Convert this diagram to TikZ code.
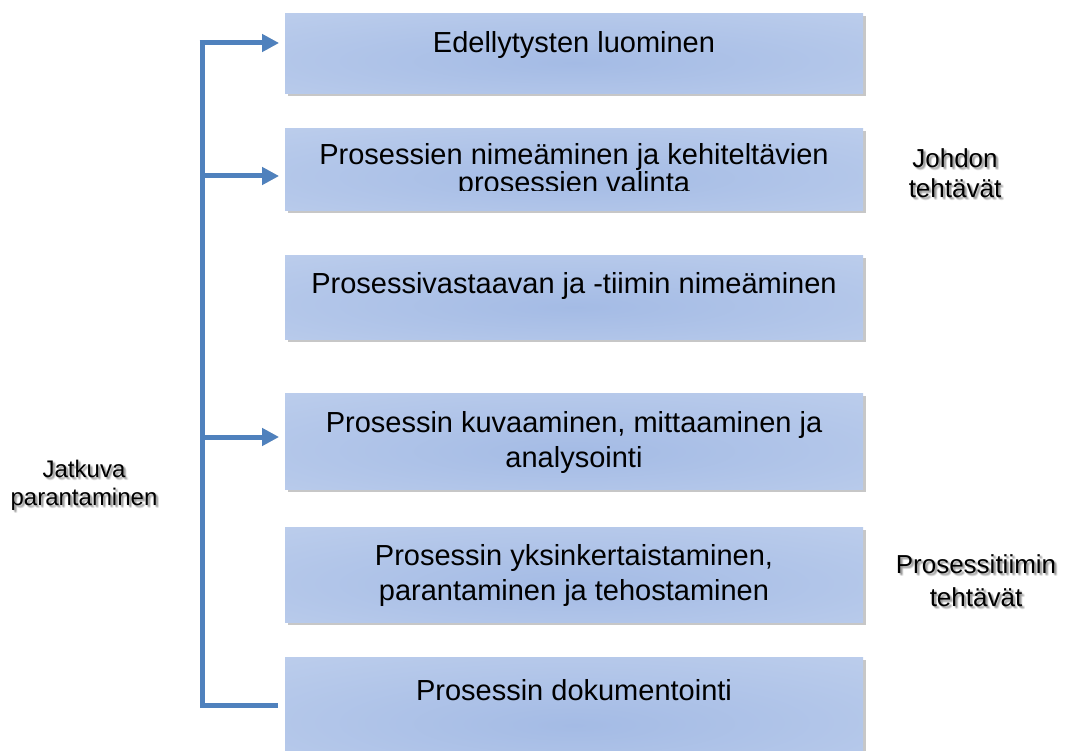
\documentclass[tikz,border=0pt]{standalone}
\usepackage{fontspec}
\setmainfont{Liberation Sans}
\usetikzlibrary{arrows.meta,shadows,calc}

\definecolor{linkblue}{HTML}{4F81BD}
\definecolor{boxin}{HTML}{A4BBE5}
\definecolor{boxout}{HTML}{CAD8F0}
\pgfdeclareradialshading{boxglow}{\pgfpoint{0bp}{-6bp}}{color(0bp)=(boxin); color(62bp)=(boxout); color(90bp)=(boxout)}

% label with a soft drop shadow behind it
\newcommand\softlabel[4][]{%
  \foreach \dx/\dy in {1/1,2/2,1.5/2.5,2.5/1.5,2/3,3/2,3/3}
    \node[sidelabel, #1, opacity=0.07] at ($(#3)+(\dx,\dy)$) {#4};
  \node[sidelabel, #1] (#2) at (#3) {#4};}

\begin{document}
\begin{tikzpicture}[x=1pt,y=-1pt,
  stepbox/.style={draw=none, shading=boxglow,
    drop shadow={shadow xshift=2.5pt, shadow yshift=-3pt, fill=black, opacity=0.22},
    minimum width=578pt, anchor=north west, inner sep=0pt},
  boxtext/.style={font=\fontsize{29}{35}\selectfont, align=center, inner sep=0pt},
  sidelabel/.style={font=\fontsize{26}{30}\selectfont, align=center, inner sep=0pt},
  link/.style={draw=linkblue, line width=5pt},
  linkshade/.style={draw=black, line width=5pt, opacity=0.18},
  tip/.style={-{Triangle[length=17pt,width=17pt]}}
]
\clip (0,0) rectangle (1066,751);
\fill[white] (0,0) rectangle (1066,751);

% process steps
\node[stepbox, minimum height=80pt]  (b1) at (285,13)  {};
\node[stepbox, minimum height=82pt]  (b2) at (285,128) {};
\node[stepbox, minimum height=84pt]  (b3) at (285,255) {};
\node[stepbox, minimum height=96pt]  (b4) at (285,393) {};
\node[stepbox, minimum height=95pt]  (b5) at (285,527) {};
\node[stepbox, minimum height=110pt] (b6) at (285,657) {};

\node[boxtext] (t1) at (574,44.6) {Edellytysten luominen};
\begin{scope}
  \clip (285,128) rectangle (863,190.5);
  \node[boxtext, font=\fontsize{29}{25}\selectfont] (t2) at (574,171) {Prosessien nimeäminen ja kehiteltävien\\prosessien valinta};
\end{scope}
\node[boxtext] (t3) at (574,285.6) {Prosessivastaavan ja -tiimin nimeäminen};
\node[boxtext] (t4) at (574,443) {Prosessin kuvaaminen, mittaaminen ja\\analysointi};
\node[boxtext] (t5) at (574,575) {Prosessin yksinkertaistaminen,\\parantaminen ja tehostaminen};
\node[boxtext] (t6) at (574,690) {Prosessin dokumentointi};

% side labels
\softlabel{lead}{955,173}{Johdon\\tehtävät}
\softlabel[font=\fontsize{26}{33}\selectfont]{team}{976,580.4}{Prosessitiimin\\tehtävät}
\softlabel[font=\fontsize{24}{28}\selectfont]{loop}{84,485}{Jatkuva\\parantaminen}

% improvement loop
\coordinate (a1) at (202,43);
\coordinate (a2) at (202,176);
\coordinate (a4) at (202,437);
\coordinate (a6) at (202,705);

\begin{scope}[shift={(2.5,2.5)}]
  \draw[linkshade, line join=miter] (a1) -- (a6) -- ($(a6 -| b6.west)+(-7,0)$);
  \draw[linkshade, tip, shorten >=6pt] (a1) -- (a1 -| b1.west);
  \draw[linkshade, tip, shorten >=6pt] (a2) -- (a2 -| b2.west);
  \draw[linkshade, tip, shorten >=6pt] (a4) -- (a4 -| b4.west);
\end{scope}
\draw[link, line join=miter] ($(a1)+(0,-2.5)$) -- (a6) -- ($(a6 -| b6.west)+(-7,0)$);
\draw[link, tip, shorten >=6pt] ($(a1)+(-2.5,0)$) -- (a1 -| b1.west);
\draw[link, tip, shorten >=6pt] (a2) -- (a2 -| b2.west);
\draw[link, tip, shorten >=6pt] (a4) -- (a4 -| b4.west);
\end{tikzpicture}
\end{document}
